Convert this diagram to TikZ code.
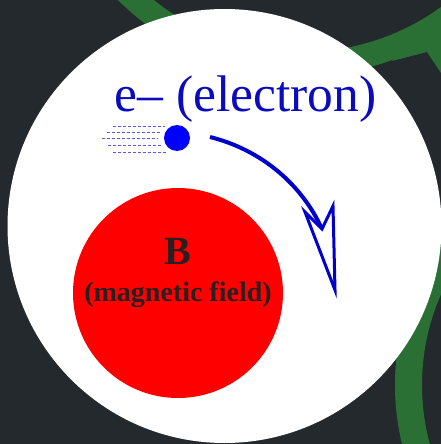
\documentclass[tikz,border=0pt]{standalone}
\usepackage{fontspec}
\setmainfont{Liberation Serif}
\definecolor{bgdark}{RGB}{35,41,45}
\definecolor{ringgreen}{RGB}{42,112,52}
\definecolor{etext}{RGB}{10,10,190}
\definecolor{arrowblue}{RGB}{0,0,205}
\definecolor{dashblue}{RGB}{90,90,220}
\definecolor{btext}{RGB}{42,30,30}
\tikzset{
  speedline/.style={dashblue, line width=1pt, dash pattern=on 3pt off 2pt},
  pathline/.style={arrowblue, line width=4pt},
  headshape/.style={arrowblue, fill=white, line width=3pt, line join=miter},
  elabel/.style={etext, font=\fontsize{51.5}{52}\selectfont, anchor=base, inner sep=0pt},
  blabel/.style={btext, font=\bfseries\fontsize{40}{40}\selectfont, anchor=base, inner sep=0pt},
  flabel/.style={btext, font=\bfseries\fontsize{28}{28}\selectfont, anchor=base, inner sep=0pt}
}
\begin{document}
\begin{tikzpicture}[x=1pt,y=-1pt]
\useasboundingbox (0,0) rectangle (441,444);
\clip (0,0) rectangle (441,444);
\fill[bgdark] (0,0) rectangle (441,444);
% decorative green bands
\fill[ringgreen, even odd rule] (302,-185) circle (261) (302,-185) circle (237);
\fill[ringgreen] (392,61) -- (427,52) -- (441,73) -- (441,20) -- cycle;
\fill[ringgreen, even odd rule] (647,385) circle (252) (647,385) circle (225);
% white disc
\fill[white] (224.5,226) circle (217);
% magnetic field disc
\node[circle, fill=red, minimum size=210pt, inner sep=0pt] (field) at (178,293) {};
\node[blabel] (Blab) at (178,264) {B};
\node[flabel] (flab) at (178,301) {(magnetic field)};
% electron
\node[elabel] (elab) at (245.5,111) {e– (electron)};
\node[circle, fill=blue, minimum size=26pt, inner sep=0pt] (el) at (177,138) {};
\draw[speedline] (113,126) -- (165,126);
\draw[speedline] (107,132) -- (160,132);
\draw[speedline] (102,138) -- (158,138);
\draw[speedline] (108,145) -- (163,145);
\draw[speedline] (113,152) -- (167,152);
% trajectory arrow
\coordinate (start) at (210,137);
\coordinate (notch) at (322,229);
\coordinate (lbarb) at (305,212);
\coordinate (rbarb) at (333,206);
\coordinate (tip) at (335,290);
\draw[pathline] (start) .. controls (262,150) and (302,185) .. (notch);
\draw[headshape] (notch) -- (lbarb) -- (tip) -- (rbarb) -- cycle;
\end{tikzpicture}
\end{document}
